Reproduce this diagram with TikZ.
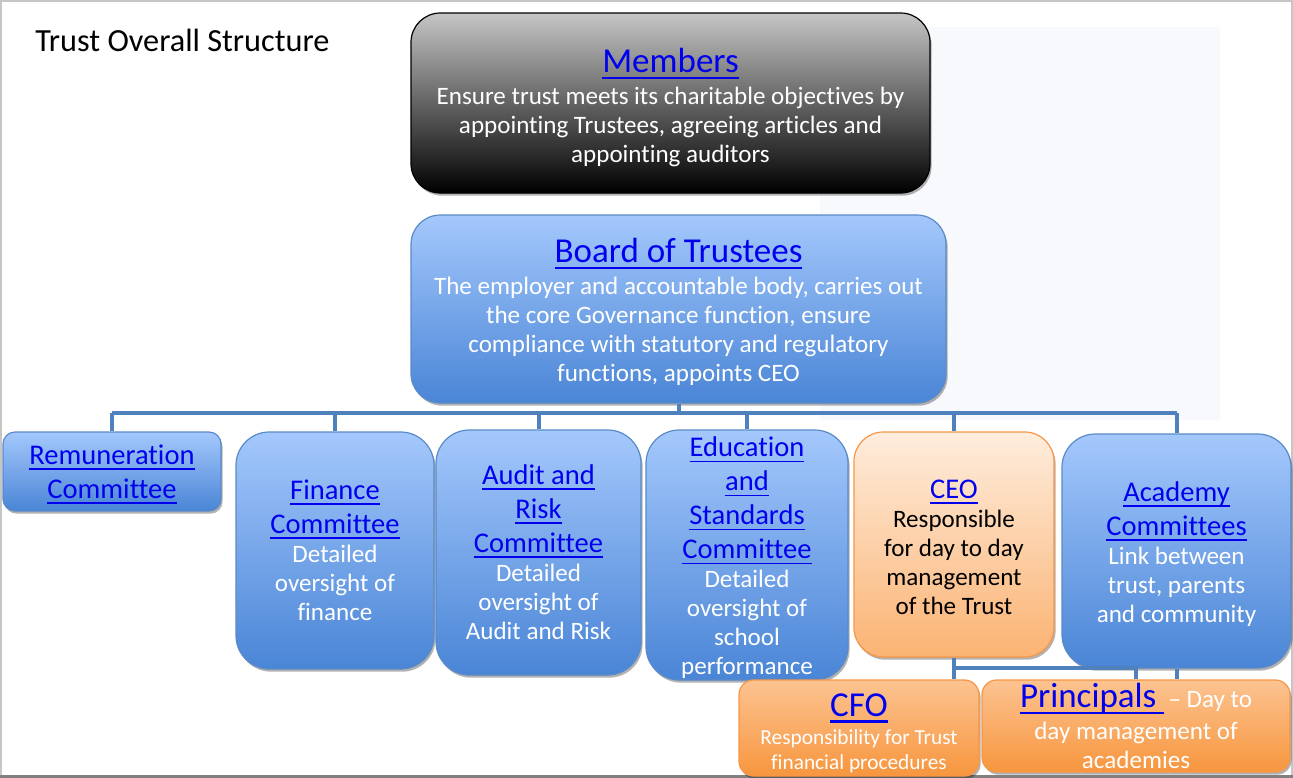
\documentclass[tikz,border=0pt]{standalone}
\usepackage{fontspec}
\setmainfont{Carlito}[Ligatures=CommonOff]
\usepackage{tikz}
\usetikzlibrary{shadows}
\definecolor{lnkblue}{HTML}{0000EE}
\definecolor{bluetop}{HTML}{A4C8FC}
\definecolor{bluebot}{HTML}{4A85D6}
\definecolor{blueedge}{HTML}{5A8AC8}
\definecolor{peachtop}{HTML}{FEEDDD}
\definecolor{peachbot}{HTML}{FBB373}
\definecolor{orangetop}{HTML}{FCC391}
\definecolor{orangebot}{HTML}{F7963E}
\definecolor{orangeedge}{HTML}{F79646}
\definecolor{connblue}{HTML}{4F81BD}
\definecolor{paleback}{HTML}{F8F9FD}
\newcommand{\pu}{0.75pt}
\newcommand{\bigttl}{\fontsize{26.25}{30}\selectfont}
\newcommand{\midttl}{\fontsize{21.4}{25.5}\selectfont}
\newcommand{\descfont}{\fontsize{18.8}{21.75}\selectfont}
\newcommand{\cfodesc}{\fontsize{16}{18.75}\selectfont}
\newcommand{\ttlfont}{\fontsize{24.2}{28}\selectfont}
\newcommand{\tstrut}[1]{\rule{0pt}{#1}}
\newsavebox{\lnkbox}
\newcommand{\lnk}[1]{\sbox{\lnkbox}{\color{lnkblue}#1}\rlap{\color{lnkblue}\rule[-0.19em]{\wd\lnkbox}{0.065em}}\usebox{\lnkbox}}
\tikzset{
  orgbox/.style={draw, line width=0.9pt, align=center, inner sep=0pt, font=\descfont,
    drop shadow={shadow xshift=1.2pt, shadow yshift=-2pt, opacity=0.3, fill=black}},
  graybox/.style={orgbox, draw=black, top color=gray!45, bottom color=black, text=white},
  bluebox/.style={orgbox, draw=blueedge, top color=bluetop, bottom color=bluebot, text=white},
  peachbox/.style={orgbox, draw=orangeedge, top color=peachtop, bottom color=peachbot, text=black},
  orangebox/.style={orgbox, draw=orangeedge, top color=orangetop, bottom color=orangebot, text=white},
  conn/.style={draw=connblue, line width=3pt}
}
\begin{document}
\begin{tikzpicture}[x=\pu, y=-\pu]
  \useasboundingbox (0,0) rectangle (1293,778);
  \fill[paleback] (820,27) rectangle (1220,420);
  \draw[gray!45, line width=1.5pt] (1,1) rectangle (1292,777);
  \draw[gray, line width=2.5pt] (0,776.5) -- (1293,776.5);

  \node (title) [anchor=west, inner sep=0pt, font=\ttlfont] at (35,40) {Trust Overall Structure};

  \node (members) [graybox, minimum width=519*\pu, minimum height=180*\pu, rounded corners=22pt] at (670.5,103)
    {\tstrut{25pt}{\bigttl\lnk{Members}}\\[2.25pt] Ensure trust meets its charitable objectives by\\
     appointing Trustees, agreeing articles and\\ appointing auditors};
  \node (board) [bluebox, minimum width=535*\pu, minimum height=188*\pu, rounded corners=22pt] at (678.5,309)
    {\tstrut{23pt}{\bigttl\lnk{Board of Trustees}}\\[2.25pt] The employer and accountable body, carries out\\
     the core Governance function, ensure\\ compliance with statutory and regulatory\\ functions, appoints CEO};

  \node (remun) [bluebox, minimum width=218*\pu, minimum height=79*\pu, rounded corners=9pt] at (112,471.5)
    {\tstrut{19pt}{\midttl\lnk{Remuneration}}\\[3.75pt] {\midttl\lnk{Committee}}};
  \node (finance) [bluebox, minimum width=198*\pu, minimum height=237*\pu, rounded corners=25pt] at (335,550.5)
    {{\midttl\lnk{Finance}}\\[3.75pt] {\midttl\lnk{Committee}}\\ Detailed\\ oversight of\\ finance};
  \node (audit) [bluebox, minimum width=205*\pu, minimum height=245*\pu, rounded corners=25pt] at (538.5,552.5)
    {{\midttl\lnk{Audit and}}\\[3.75pt] {\midttl\lnk{Risk}}\\[3.75pt] {\midttl\lnk{Committee}}\\ Detailed\\
     oversight of\\ Audit and Risk};
  \node (edu) [bluebox, minimum width=202*\pu, minimum height=250*\pu, rounded corners=25pt] at (747,555)
    {\tstrut{19.5pt}{\midttl\lnk{Education}}\\[3.75pt] {\midttl\lnk{and}}\\[3.75pt] {\midttl\lnk{Standards}}\\[3.75pt]
     {\midttl\lnk{Committee}}\\ Detailed\\ oversight of\\ school\\ performance};
  \node (ceo) [peachbox, minimum width=200*\pu, minimum height=225*\pu, rounded corners=22pt] at (954,544.5)
    {\tstrut{18.5pt}{\midttl\lnk{CEO}}\\ Responsible\\ for day to day\\ management\\ of the Trust};
  \node (acad) [bluebox, minimum width=229*\pu, minimum height=234*\pu, rounded corners=25pt] at (1176.5,551)
    {\tstrut{19.5pt}{\midttl\lnk{Academy}}\\[3.75pt] {\midttl\lnk{Committees}}\\ Link between\\ trust, parents\\
     and community};

  \node (cfo) [orangebox, font=\cfodesc, minimum width=240*\pu, minimum height=96*\pu, rounded corners=11pt] at (859,728)
    {\tstrut{24.4pt}{\bigttl\lnk{CFO}}\\[2.25pt] Responsibility for Trust\\ financial procedures};
  \node (princ) [orangebox, minimum width=308*\pu, minimum height=92*\pu, rounded corners=11pt] at (1136,726)
    {{\bigttl\lnk{Principals\ }}\,-- Day to\\[2.25pt] day management of\\ academies};

  % board to committees
  \coordinate (bar) at (0,413);
  \draw[conn] (board.south) -- (board.south |- bar);
  \draw[conn] (remun.north |- bar) -- (acad.north |- bar);
  \foreach \n in {remun,finance,audit,edu,ceo,acad}
    \draw[conn] (\n.north |- bar) -- (\n.north);

  % CEO to CFO and principals
  \coordinate (lowbar) at (0,668);
  \draw[conn] (ceo.south) -- (ceo.south |- cfo.north);
  \draw[conn] (ceo.south |- lowbar) -| (princ.north);
  \draw[conn] (acad.south) -- (acad.south |- princ.north);
\end{tikzpicture}
\end{document}
